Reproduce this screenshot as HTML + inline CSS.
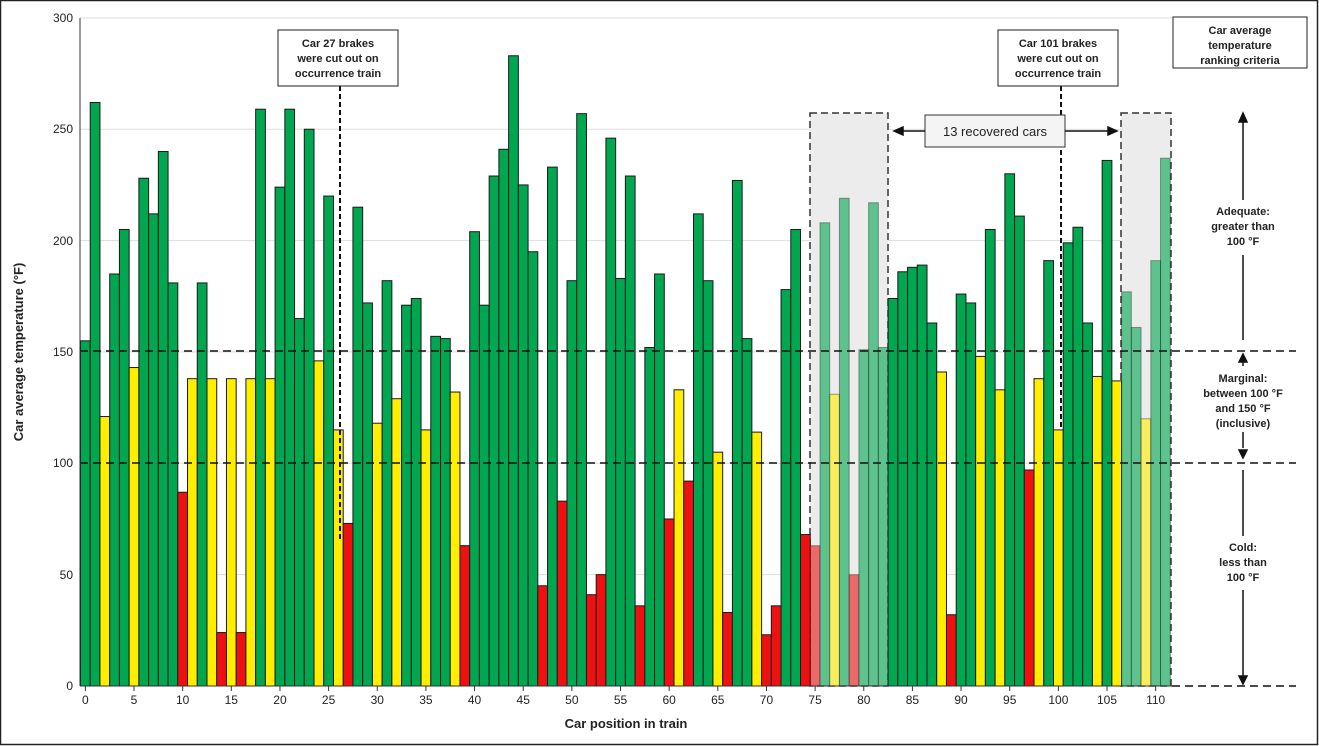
<!DOCTYPE html>
<html><head><meta charset="utf-8"><style>
html,body{margin:0;padding:0;background:#fff;}
svg{display:block;font-family:"Liberation Sans",Arial,sans-serif;}
</style></head><body>
<svg id="s" width="1319" height="746" viewBox="0 0 1319 746" xmlns="http://www.w3.org/2000/svg">
<rect x="0.5" y="0.5" width="1317" height="744" fill="#fff" stroke="#222" stroke-width="1.5"/>
<g stroke="#ddd" stroke-width="1">
<line x1="80" x2="1172" y1="574.6" y2="574.6"/>
<line x1="80" x2="1172" y1="463.3" y2="463.3"/>
<line x1="80" x2="1172" y1="351.9" y2="351.9"/>
<line x1="80" x2="1172" y1="240.6" y2="240.6"/>
<line x1="80" x2="1172" y1="129.2" y2="129.2"/>
<line x1="80" x2="1172" y1="18" y2="18"/>
</g>
<rect x="810" y="113" width="78" height="573" fill="#ececec" stroke="#333" stroke-dasharray="7,4" stroke-width="1.5"/>
<rect x="1121" y="113" width="50" height="573" fill="#ececec" stroke="#333" stroke-dasharray="7,4" stroke-width="1.5"/>
<g id="bars"></g>
<g stroke="#111" stroke-width="1.5" stroke-dasharray="8,5">
<line x1="80" x2="1296" y1="351" y2="351"/>
<line x1="80" x2="1296" y1="463" y2="463"/>
<line x1="1172" x2="1296" y1="686" y2="686"/>
<line x1="340" x2="340" y1="86" y2="540" stroke-width="2" stroke-dasharray="5,3"/>
<line x1="1061" x2="1061" y1="86" y2="430" stroke-width="2" stroke-dasharray="5,3"/>
</g>
<line x1="80" y1="18" x2="80" y2="686" stroke="#333"/>
<line x1="80" y1="686" x2="1172" y2="686" stroke="#333"/>
<g font-size="12" fill="#222" text-anchor="end">
<text x="73" y="690">0</text><text x="73" y="579">50</text><text x="73" y="467">100</text><text x="73" y="356">150</text><text x="73" y="245">200</text><text x="73" y="133">250</text><text x="73" y="22">300</text>
</g>
<g id="xt" font-size="12" fill="#222" text-anchor="middle"></g>
<text x="626" y="728" font-size="13" font-weight="bold" text-anchor="middle" fill="#222">Car position in train</text>
<text transform="translate(23,352) rotate(-90)" font-size="13" font-weight="bold" text-anchor="middle" fill="#222">Car average temperature (°F)</text>
<g font-size="11" font-weight="bold" text-anchor="middle" fill="#222">
<rect x="278" y="30" width="120" height="56" fill="#fff" stroke="#222"/>
<text x="338" y="47">Car 27 brakes</text><text x="338" y="62">were cut out on</text><text x="338" y="77">occurrence train</text>
<rect x="998" y="30" width="120" height="56" fill="#fff" stroke="#222"/>
<text x="1058" y="47">Car 101 brakes</text><text x="1058" y="62">were cut out on</text><text x="1058" y="77">occurrence train</text>
<rect x="1173" y="17" width="134" height="51" fill="#fff" stroke="#222"/>
<text x="1240" y="34">Car average</text><text x="1240" y="49">temperature</text><text x="1240" y="64">ranking criteria</text>
<text x="1243" y="215">Adequate:</text><text x="1243" y="230">greater than</text><text x="1243" y="245">100 °F</text>
<text x="1243" y="382">Marginal:</text><text x="1243" y="397">between 100 °F</text><text x="1243" y="412">and 150 °F</text><text x="1243" y="427">(inclusive)</text>
<text x="1243" y="551">Cold:</text><text x="1243" y="566">less than</text><text x="1243" y="581">100 °F</text>
</g>
<rect x="925" y="115" width="140" height="32" fill="#f4f4f4" stroke="#333"/>
<text x="995" y="136" font-size="13" text-anchor="middle" fill="#222">13 recovered cars</text>
<g stroke="#111" stroke-width="1.5" fill="#111">
<line x1="900" y1="131" x2="925" y2="131"/><polygon points="894,131 903,127 903,135"/>
<line x1="1065" y1="131" x2="1110" y2="131"/><polygon points="1117,131 1108,127 1108,135"/>
<line x1="1243" y1="122" x2="1243" y2="200"/><line x1="1243" y1="255" x2="1243" y2="340"/><polygon points="1243,113 1239,122 1247,122"/>
<line x1="1243" y1="362" x2="1243" y2="366"/><polygon points="1243,354 1239,362 1247,362"/>
<line x1="1243" y1="432" x2="1243" y2="448"/><polygon points="1243,458 1239,450 1247,450"/>
<line x1="1243" y1="470" x2="1243" y2="536"/><line x1="1243" y1="590" x2="1243" y2="676"/><polygon points="1243,684 1239,676 1247,676"/>
</g>
</svg>
<script>
var v=[155,262,121,185,205,143,228,212,240,181,87,138,181,138,24,138,24,138,259,138,224,259,165,250,146,220,115,73,215,172,118,182,129,171,174,115,157,156,132,63,204,171,229,241,283,225,195,45,233,83,182,257,41,50,246,183,229,36,152,185,75,133,92,212,182,105,33,227,156,114,23,36,178,205,68,63,208,131,219,50,151,217,152,174,186,188,189,163,141,32,176,172,148,205,133,230,211,97,138,191,115,199,206,163,139,236,137,177,161,120,191,237];
var g=document.getElementById('bars'),ns='http://www.w3.org/2000/svg',w=9.73,x0=80.5;
for(var i=0;i<v.length;i++){var val=v[i];var c=val<100?'#ee1111':(val<=150?'#ffee00':'#00a650');
var light=(i>=75&&i<=82)||i>=107;var r=document.createElementNS(ns,'rect');
var h=val*2.227;r.setAttribute('x',x0+i*w);r.setAttribute('y',686-h);r.setAttribute('width',w);r.setAttribute('height',h);
r.setAttribute('fill',c);r.setAttribute('stroke','#1a1a1a');r.setAttribute('stroke-width','1');
if(light){r.setAttribute('fill-opacity','0.6');r.setAttribute('stroke-opacity','0.4');}g.appendChild(r);}
var t=document.getElementById('xt');
for(var k=0;k<=110;k+=5){var e=document.createElementNS(ns,'text');e.setAttribute('x',x0+(k+0.5)*w);e.setAttribute('y',704);e.textContent=k;t.appendChild(e);
var l=document.createElementNS(ns,'line');l.setAttribute('x1',x0+(k+0.5)*w);l.setAttribute('x2',x0+(k+0.5)*w);l.setAttribute('y1',686);l.setAttribute('y2',691);l.setAttribute('stroke','#333');t.appendChild(l);}
</script>
</body></html>
